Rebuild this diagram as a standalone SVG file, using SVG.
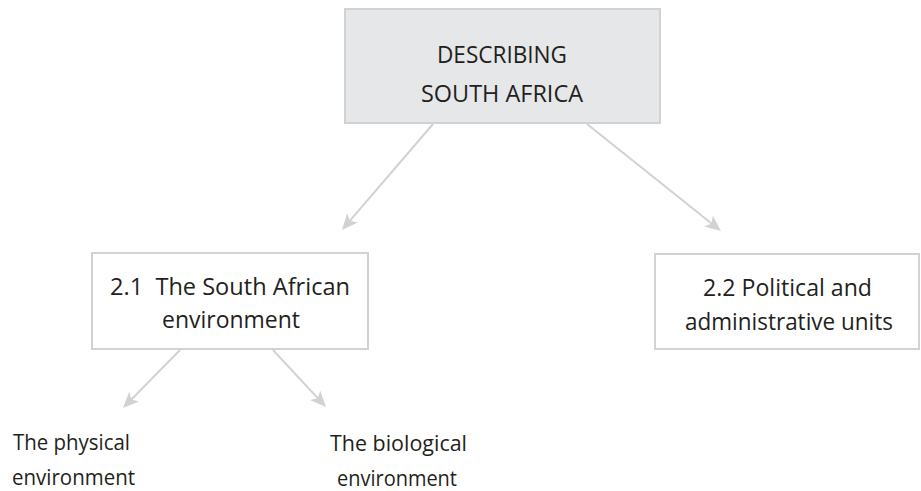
<svg xmlns="http://www.w3.org/2000/svg" width="921" height="491" viewBox="0 0 921 491">
<style>
.box{fill:#ffffff;stroke:#d1d2d4;stroke-width:2}
.top{fill:#e6e7e8;stroke:#d1d2d4;stroke-width:2}
text{font-family:"Open Sans","Noto Sans","DejaVu Sans",sans-serif;fill:#231f20;text-anchor:middle}
.t{font-size:24px}
.l{font-size:22px}
.c{stroke:#d1d2d4;stroke-width:2;fill:none;marker-end:url(#ah)}
</style>
<defs>
<marker id="ah" viewBox="0 0 16 14" refX="10" refY="7" markerWidth="16" markerHeight="14" markerUnits="userSpaceOnUse" orient="auto">
<path d="M0,0 L16,7 L0,14 L4,7 z" fill="#d1d2d4"/>
</marker>
</defs>
<g id="connectors">
<line class="c" x1="433" y1="124" x2="345.9" y2="225.4"/>
<line class="c" x1="587" y1="124" x2="716.3" y2="227.3"/>
<line class="c" x1="180" y1="350" x2="127.2" y2="403.7"/>
<line class="c" x1="273" y1="350" x2="321.9" y2="402.6"/>
</g>
<g id="n0">
<rect class="top" x="345" y="9" width="315" height="114"/>
<text class="t" x="502" y="63" textLength="130" lengthAdjust="spacingAndGlyphs">DESCRIBING</text>
<text class="t" x="502" y="102" textLength="162" lengthAdjust="spacingAndGlyphs">SOUTH AFRICA</text>
</g>
<g id="n1">
<rect class="box" x="92" y="253" width="276" height="96"/>
<text class="t" x="230" y="295" xml:space="preserve" textLength="240" lengthAdjust="spacingAndGlyphs">2.1  The South African</text>
<text class="t" x="231" y="328" textLength="138" lengthAdjust="spacingAndGlyphs">environment</text>
</g>
<g id="n2">
<rect class="box" x="655" y="254" width="264" height="95"/>
<text class="t" x="787.5" y="296" textLength="169" lengthAdjust="spacingAndGlyphs">2.2 Political and</text>
<text class="t" x="789" y="330" textLength="208" lengthAdjust="spacingAndGlyphs">administrative units</text>
</g>
<g id="n3">
<text class="l" x="71.5" y="450" textLength="117" lengthAdjust="spacingAndGlyphs">The physical</text>
<text class="l" x="73.5" y="485" textLength="123" lengthAdjust="spacingAndGlyphs">environment</text>
</g>
<g id="n4">
<text class="l" x="398.5" y="451" textLength="137" lengthAdjust="spacingAndGlyphs">The biological</text>
<text class="l" x="397" y="486" textLength="120" lengthAdjust="spacingAndGlyphs">environment</text>
</g>
</svg>
